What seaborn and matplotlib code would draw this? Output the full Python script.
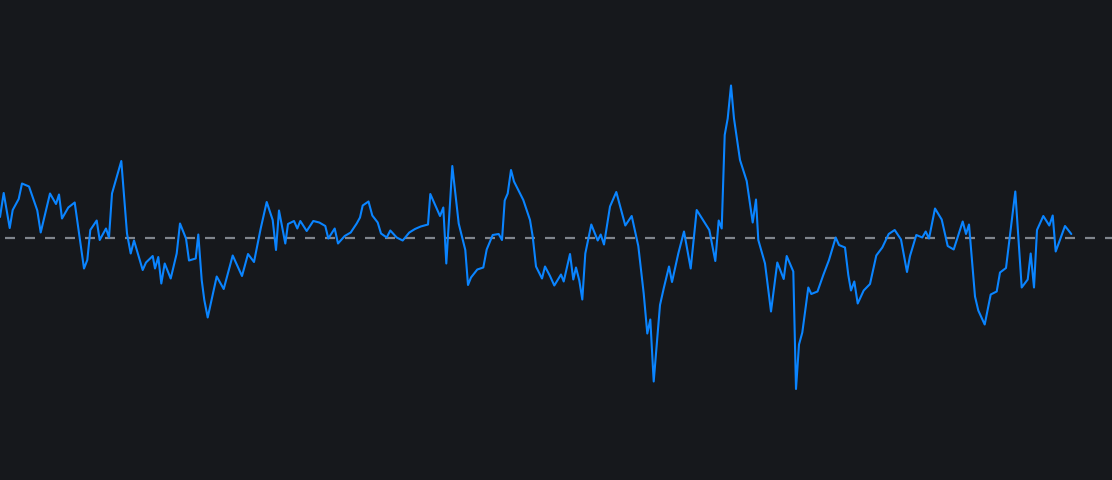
import matplotlib
matplotlib.use("Agg")
import matplotlib.pyplot as plt
import seaborn as sns
import pandas as pd

# time positions (index units) and values
t = [0, 3.7, 9.7, 12.7, 18.7, 22, 29, 37.3, 40.7, 50, 56, 59, 62, 68.3, 74.7, 84, 87.3, 90.3, 96.7, 99.7,
     106, 109, 112, 121.3, 127, 130.7, 134, 142.7, 146, 152.7, 155, 158.3, 161.3, 164.7, 170.7, 176.7, 180, 186,
     189, 195.7, 198.3, 201.7, 204.3, 207.7, 216.7, 223.7, 232.7, 242, 248, 254, 260.7, 266.7, 272.7, 276,
     279, 285.3, 288, 294, 297.3, 300.3, 306.7, 313.3, 319.3, 325.3, 328.3, 334.7, 338, 344.7, 350.7, 356.7,
     360, 362.7, 368.5,
     372.3, 377.7, 381, 386.7, 390.3, 396.7, 402.7, 409.3, 415, 420.7, 428, 430.3, 440, 443.3, 446.3, 452.3,
     458.7, 465.3, 468, 471, 477.3, 483.3, 486.7, 492.7, 498.7, 502, 504.7, 507.7, 511, 514, 523.3, 530,
     532.7, 536, 542, 545, 550,
     554.3, 561, 563.7, 570, 573.3, 576, 579.3, 582.3, 585.3, 591.3, 597.7, 600.7, 604, 610, 616.3, 625.3,
     631.7, 638.3, 643.7, 647.3, 650.3, 653.7, 660, 663.7, 669, 672, 678.3, 684,
     690.7, 696.7, 709.3, 715.3, 718.7, 721.7, 724.7, 727.7, 731, 734, 740, 746.7, 752.7, 756, 758.3, 765,
     771, 777.3, 783.7, 786.7, 793.3, 796, 799, 802.3, 808.3, 811.3, 817.5,
     823.3, 829, 835.7, 839, 845, 848.3, 851, 854.3, 857.7, 863.7, 870, 876.3, 882.3, 888.7, 894.7, 901,
     907, 910, 916.3, 922.3, 925.7, 929, 935, 941.7, 947.7, 953.7,
     962.7, 966, 969, 975, 978.3, 984.7, 990.7, 996.7, 1000, 1006, 1015.3, 1021.7, 1027.7, 1030.7, 1034,
     1037, 1043.3, 1049.3, 1052.7, 1055.7, 1065, 1071.3]

values = [0.42, 0.90, 0.20, 0.56, 0.78, 1.09, 1.03, 0.55, 0.11, 0.89, 0.68, 0.87, 0.39, 0.61, 0.71, -0.61, -0.44, 0.16, 0.35, -0.04,
          0.19, 0.01, 0.89, 1.54, 0.09, -0.31, -0.05, -0.64, -0.49, -0.36, -0.61, -0.38, -0.91, -0.51, -0.81, -0.31, 0.29, -0.01,
          -0.45, -0.41, 0.07, -0.84, -1.24, -1.59, -0.77, -1.02, -0.35, -0.76, -0.32, -0.48, 0.19, 0.72, 0.36, -0.24,
          0.55, -0.11, 0.28, 0.34, 0.19, 0.34, 0.14, 0.34, 0.31, 0.24, -0.01, 0.19, -0.11, 0.04, 0.11, 0.29,
          0.41, 0.65, 0.73,
          0.45, 0.31, 0.09, 0.01, 0.15, 0.01, -0.05, 0.11, 0.18, 0.23, 0.27, 0.88, 0.44, 0.61, -0.51, 1.44,
          0.29, -0.24, -0.94, -0.79, -0.63, -0.59, -0.23, 0.06, 0.08, -0.04, 0.75, 0.89, 1.36, 1.13, 0.76, 0.36,
          0.03, -0.57, -0.81, -0.57, -0.76,
          -0.95, -0.73, -0.87, -0.32, -0.83, -0.59, -0.85, -1.23, -0.31, 0.27, -0.05, 0.07, -0.13, 0.63, 0.92, 0.25,
          0.44, -0.16, -1.11, -1.91, -1.63, -2.87, -1.34, -1.01, -0.57, -0.88, -0.31, 0.13,
          -0.61, 0.56, 0.16, -0.46, 0.35, 0.19, 2.06, 2.39, 3.05, 2.39, 1.56, 1.14, 0.31, 0.77, -0.04, -0.51,
          -1.47, -0.49, -0.82, -0.36, -0.67, -3.02, -2.13, -1.89, -0.99, -1.12, -1.07,
          -0.74, -0.44, 0.01, -0.14, -0.19, -0.74, -1.05, -0.87, -1.31, -1.05, -0.92, -0.35, -0.19, 0.08, 0.16, -0.03,
          -0.68, -0.36, 0.06, 0.01, 0.13, -0.01, 0.59, 0.37, -0.16, -0.23,
          0.33, 0.08, 0.27, -1.17, -1.45, -1.73, -1.13, -1.07, -0.69, -0.60, 0.93, -0.99, -0.83, -0.31, -0.99,
          0.16, 0.44, 0.25, 0.45, -0.27, 0.24, 0.08]

baseline = 0.0

BG = "#16181c"
sns.set_theme(style="dark", rc={"axes.facecolor": BG, "figure.facecolor": BG})
plt.rcParams["lines.scale_dashes"] = False

df = pd.DataFrame({"t": t, "value": values})

fig = plt.figure(figsize=(11.12, 4.8), dpi=100)
ax = fig.add_axes([0, 0, 1, 1])
ax.set_facecolor(BG)

ax.axhline(baseline, color="#80858d", linewidth=1.6, linestyle=(10.8, (7.2, 7.2)), zorder=1)
sns.lineplot(data=df, x="t", y="value", ax=ax, color="#0a84ff", linewidth=1.5,
             estimator=None, sort=False, zorder=2)

ax.set_xlim(0, 1112)
ax.set_ylim(-4.84, 4.76)
ax.set_axis_off()

fig.savefig("out.png", dpi=100, facecolor=BG)
